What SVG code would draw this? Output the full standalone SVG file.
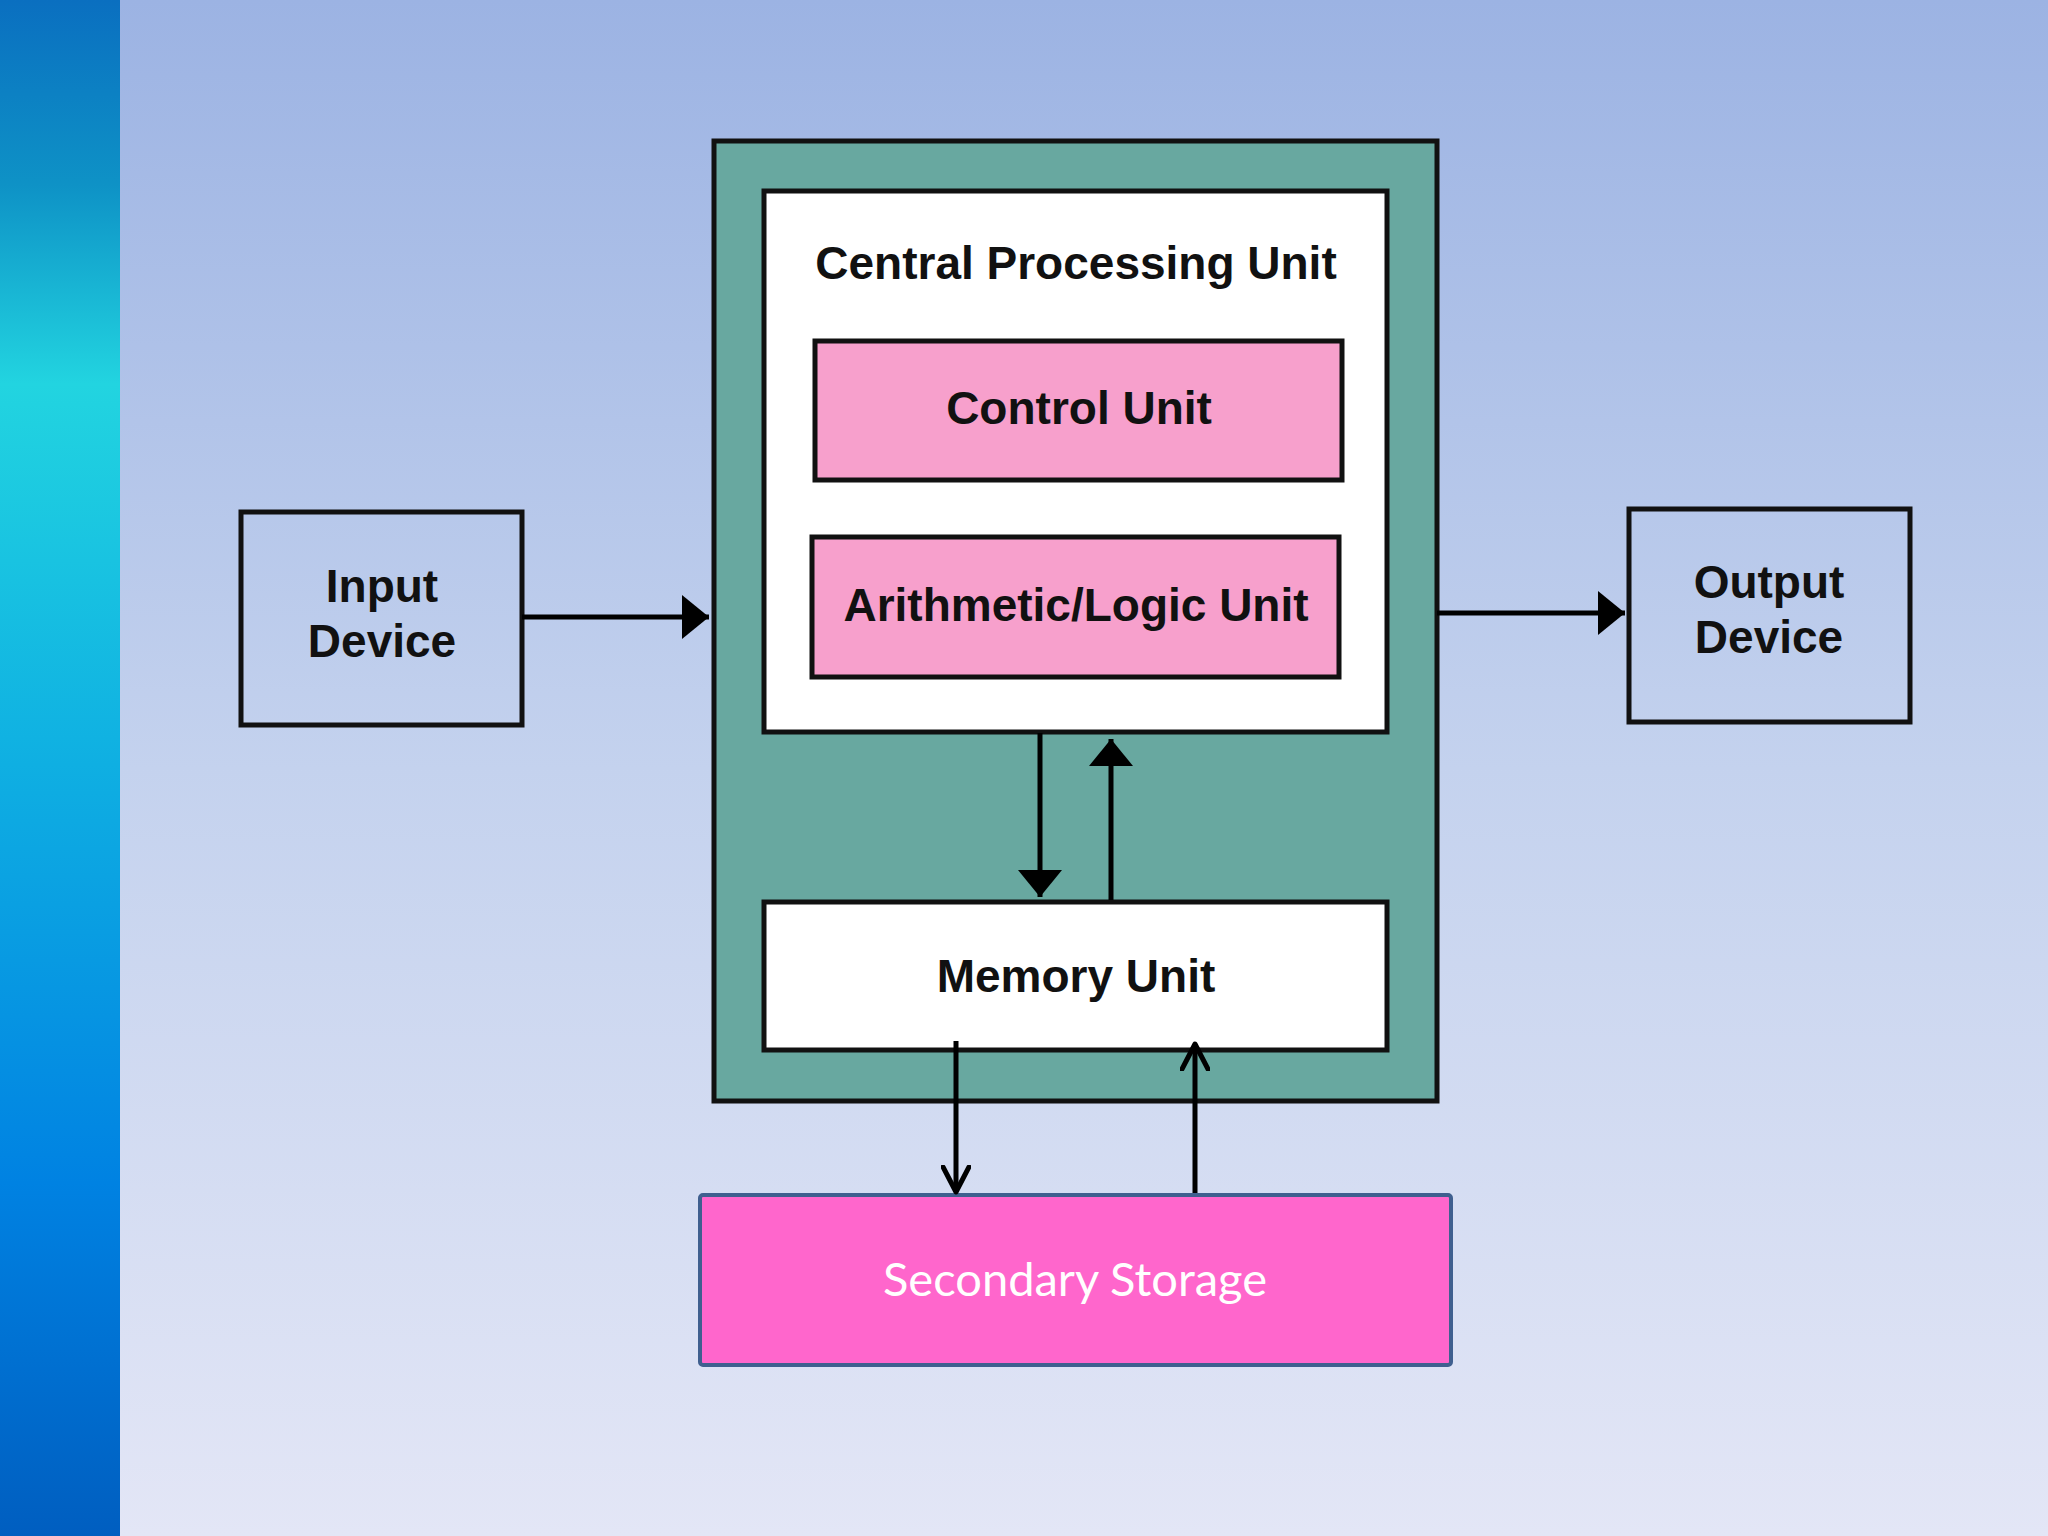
<svg xmlns="http://www.w3.org/2000/svg" width="2048" height="1536" viewBox="0 0 2048 1536">
  <defs>
    <linearGradient id="bg" x1="0" y1="0" x2="0" y2="1">
      <stop offset="0" stop-color="#9cb3e3"/>
      <stop offset="0.5" stop-color="#c4d2ee"/>
      <stop offset="1" stop-color="#e3e6f6"/>
    </linearGradient>
    <linearGradient id="strip" x1="0" y1="0" x2="0" y2="1">
      <stop offset="0" stop-color="#0a6fc0"/>
      <stop offset="0.12" stop-color="#0e92c6"/>
      <stop offset="0.25" stop-color="#22d4e0"/>
      <stop offset="0.48" stop-color="#10b2e2"/>
      <stop offset="0.77" stop-color="#0082e2"/>
      <stop offset="1" stop-color="#005ec0"/>
    </linearGradient>
    <marker id="tri" viewBox="0 0 27 44" refX="27" refY="22" markerUnits="userSpaceOnUse" markerWidth="27" markerHeight="44" orient="auto">
      <path d="M0,0 L27,22 L0,44 Z" fill="#000"/>
    </marker>
    <marker id="chev" viewBox="0 0 30 30" refX="27" refY="15" markerUnits="userSpaceOnUse" markerWidth="30" markerHeight="30" orient="auto">
      <path d="M2,2 L27,15 L2,28" fill="none" stroke="#000" stroke-width="5" stroke-linecap="round" stroke-linejoin="round"/>
    </marker>
  </defs>
  <style>
    .box { stroke: #111; stroke-width: 5; }
    .lbl { font-family: "Liberation Sans", Arial, sans-serif; font-weight: bold; font-size: 46px; fill: #111; text-anchor: middle; }
    .conn { stroke: #000; stroke-width: 5; fill: none; }
  </style>

  <rect x="0" y="0" width="2048" height="1536" fill="url(#bg)"/>
  <rect x="0" y="0" width="120" height="1536" fill="url(#strip)"/>

  <g id="cpu-outer">
    <rect class="box" x="714" y="141" width="723" height="960" fill="#68a8a0"/>
  </g>
  <g id="cpu">
    <rect class="box" x="764" y="191" width="623" height="541" fill="#ffffff" stroke-width="6"/>
    <text class="lbl" x="1076" y="279">Central Processing Unit</text>
  </g>
  <g id="control-unit">
    <rect class="box" x="815" y="341" width="527" height="139" fill="#f7a0cc"/>
    <text class="lbl" x="1079" y="424">Control Unit</text>
  </g>
  <g id="alu">
    <rect class="box" x="812" y="537" width="527" height="140" fill="#f7a0cc"/>
    <text class="lbl" x="1076" y="621">Arithmetic/Logic Unit</text>
  </g>
  <g id="memory-unit">
    <rect class="box" x="764" y="902" width="623" height="148" fill="#ffffff"/>
    <text class="lbl" x="1076" y="992">Memory Unit</text>
  </g>
  <g id="input-device">
    <rect class="box" x="241" y="512" width="281" height="213" fill="none"/>
    <text class="lbl" x="382" y="602">Input</text>
    <text class="lbl" x="382" y="657">Device</text>
  </g>
  <g id="output-device">
    <rect class="box" x="1629" y="509" width="281" height="213" fill="none"/>
    <text class="lbl" x="1769" y="598">Output</text>
    <text class="lbl" x="1769" y="653">Device</text>
  </g>
  <g id="secondary-storage">
    <rect x="700" y="1195" width="751" height="170" rx="3" fill="#ff66cc" stroke="#3f5f8f" stroke-width="4"/>
    <text x="1075" y="1296" font-family="Lato, 'Open Sans', sans-serif" font-size="47" fill="#ffffff" text-anchor="middle" textLength="384" lengthAdjust="spacingAndGlyphs">Secondary Storage</text>
  </g>

  <g id="connectors">
    <line class="conn" x1="522" y1="617" x2="709" y2="617" marker-end="url(#tri)"/>
    <line class="conn" x1="1437" y1="613" x2="1625" y2="613" marker-end="url(#tri)"/>
    <line class="conn" x1="1040" y1="733" x2="1040" y2="897" marker-end="url(#tri)"/>
    <line class="conn" x1="1111" y1="900" x2="1111" y2="739" marker-end="url(#tri)"/>
    <line class="conn" x1="956" y1="1041" x2="956" y2="1192" marker-end="url(#chev)"/>
    <line class="conn" x1="1195" y1="1193" x2="1195" y2="1044" marker-end="url(#chev)"/>
  </g>
</svg>
